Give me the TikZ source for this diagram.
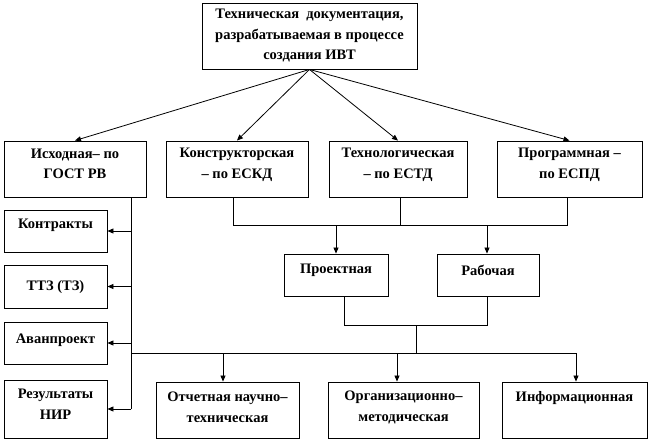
\documentclass[tikz,border=0pt]{standalone}
\usepackage{fontspec}
\setmainfont{Liberation Serif}
\usetikzlibrary{arrows.meta}
\begin{document}
\begin{tikzpicture}[x=1pt,y=-1pt,
  box/.style={draw, line width=0.9pt, inner sep=0pt, rectangle},
  txt/.style={font=\bfseries\fontsize{14.5}{20.5}\selectfont, align=center, inner sep=0pt},
  arr/.style={-{Triangle[length=6pt,width=5pt]}, line width=0.8pt},
  ln/.style={line width=0.8pt}]
\useasboundingbox (0,0) rectangle (649,442);
% boxes
\node[box, minimum width=215pt, minimum height=66pt] (top) at (309.5,36) {};
\node[box, minimum width=142pt, minimum height=56pt] (isx) at (75,169) {};
\node[box, minimum width=142pt, minimum height=56pt] (kon) at (237,169) {};
\node[box, minimum width=138pt, minimum height=56pt] (teh) at (398,169) {};
\node[box, minimum width=145pt, minimum height=56pt] (prg) at (569.5,169) {};
\node[box, minimum width=103pt, minimum height=42pt] (kont) at (55.5,231) {};
\node[box, minimum width=103pt, minimum height=43pt] (ttz) at (55.5,286.5) {};
\node[box, minimum width=103pt, minimum height=42pt] (avan) at (55.5,343) {};
\node[box, minimum width=103pt, minimum height=58pt] (rez) at (55.5,409) {};
\node[box, minimum width=104pt, minimum height=42pt] (proj) at (336,275) {};
\node[box, minimum width=102pt, minimum height=42pt] (rab) at (488,275) {};
\node[box, minimum width=143pt, minimum height=56pt] (otch) at (227.5,410) {};
\node[box, minimum width=151pt, minimum height=56pt] (org) at (403.5,410) {};
\node[box, minimum width=145pt, minimum height=56pt] (inf) at (574.5,410) {};
% texts
\node[txt] (top-t) at (309.5,36) {Техническая\ \ документация,\\разрабатываемая в процессе\\создания ИВТ};
\node[txt] (isx-t) at (75,164) {Исходная– по\\ГОСТ РВ};
\node[txt] (kon-t) at (237,165) {Конструкторская\\– по ЕСКД};
\node[txt] (teh-t) at (398,165) {Технологическая\\– по ЕСТД};
\node[txt] (prg-t) at (569.5,165) {Программная –\\по ЕСПД};
\node[txt] (kont-t) at (55.5,225) {Контракты};
\node[txt] (ttz-t) at (55.5,287) {ТТЗ (ТЗ)};
\node[txt] (avan-t) at (55.5,340) {Аванпроект};
\node[txt] (rez-t) at (55.5,404) {Результаты\\НИР};
\node[txt] (proj-t) at (336,270) {Проектная};
\node[txt] (rab-t) at (488,270) {Рабочая};
\node[txt] (otch-t) at (227.5,407.5) {Отчетная научно–\\техническая};
\node[txt] (org-t) at (403.5,407.5) {Организационно–\\методическая};
\node[txt] (inf-t) at (574.5,398) {Информационная};
% helper coordinates
\coordinate (v1) at (131,0);
\coordinate (m2) at (416,0);
\coordinate (j1) at (0,225);
\coordinate (j2) at (0,325);
\coordinate (hb) at (0,353);
% fan from top
\draw[arr] (top.south) -- (isx.north);
\draw[arr] (top.south) -- (kon.north);
\draw[arr] (top.south) -- (teh.north);
\draw[arr] (top.south) -- (prg.north);
% left column
\draw[ln] (isx.south -| v1) -- (v1 |- rez.east);
\draw[arr] (v1 |- kont.east) -- (kont.east);
\draw[arr] (v1 |- ttz.east) -- (ttz.east);
\draw[arr] (v1 |- avan.east) -- (avan.east);
\draw[arr] (v1 |- rez.east) -- (rez.east);
% second row to proj / rab
\draw[ln] ([xshift=-4pt]kon.south) -- ([xshift=-4pt]kon.south |- j1) -- ([xshift=-2.5pt]prg.south |- j1) -- ([xshift=-2.5pt]prg.south);
\draw[ln] ([xshift=2pt]teh.south) -- ([xshift=2pt]teh.south |- j1);
\draw[arr] (proj.north |- j1) -- (proj.north);
\draw[arr] ([xshift=-1pt]rab.north |- j1) -- ([xshift=-1pt]rab.north);
% proj / rab to bottom
\draw[ln] ([xshift=8pt]proj.south) -- ([xshift=8pt]proj.south |- j2) -- ([xshift=-1pt]rab.south |- j2) -- ([xshift=-1pt]rab.south);
\draw[ln] (m2 |- j2) -- (m2 |- hb);
\draw[ln] (v1 |- hb) -- ([xshift=1.5pt]inf.north |- hb);
\draw[arr] ([xshift=-4.5pt]otch.north |- hb) -- ([xshift=-4.5pt]otch.north);
\draw[arr] ([xshift=-6.5pt]org.north |- hb) -- ([xshift=-6.5pt]org.north);
\draw[arr] ([xshift=1.5pt]inf.north |- hb) -- ([xshift=1.5pt]inf.north);
\end{tikzpicture}
\end{document}
